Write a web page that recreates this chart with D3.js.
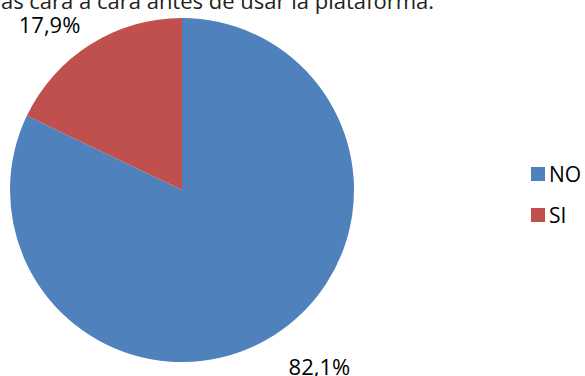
<!DOCTYPE html>
<html>
<head>
<meta charset="utf-8">
<script src="https://cdn.jsdelivr.net/npm/d3@7"></script>
<style>
  html, body { margin: 0; padding: 0; background: #fff; }
  svg { display: block; }
  text { font-family: "Open Sans", "DejaVu Sans", sans-serif; fill: #000; }
</style>
</head>
<body>
<svg id="chart" width="585" height="376"></svg>
<script>
// Answers and their shares (percent)
const categories = ["NO", "SI"];
const values = [82.1, 17.9];
const valueLabels = ["82,1%", "17,9%"];
const colors = ["#4F81BD", "#C0504D"];
const titleText = "¿Conocías a las personas cara a cara antes de usar la plataforma.";

const svg = d3.select("#chart");
const cx = 182, cy = 190, radius = 172;

// Title, partly above the top edge of the canvas
svg.append("text")
  .attr("x", 434)
  .attr("y", 9)
  .attr("text-anchor", "end")
  .style("font-size", "22px")
  .style("fill", "#222")
  .text(titleText);

const pie = d3.pie().sort(null).value(d => d);
const arcs = pie(values);
const arc = d3.arc().innerRadius(0).outerRadius(radius);

const g = svg.append("g").attr("transform", `translate(${cx},${cy})`);

g.selectAll("path.slice")
  .data(arcs)
  .join("path")
  .attr("class", "slice")
  .attr("d", arc)
  .attr("fill", (d, i) => colors[i]);

// Value labels outside each slice along its mid angle
const labelNudge = [[34, 12], [-29, -2]];
const labelRadius = radius + 22;
g.selectAll("text.value")
  .data(arcs)
  .join("text")
  .attr("class", "value")
  .attr("text-anchor", "middle")
  .attr("dominant-baseline", "central")
  .style("font-size", "22px")
  .attr("x", (d, i) => Math.sin((d.startAngle + d.endAngle) / 2) * labelRadius + labelNudge[i][0])
  .attr("y", (d, i) => -Math.cos((d.startAngle + d.endAngle) / 2) * labelRadius + labelNudge[i][1])
  .text((d, i) => valueLabels[i]);

// Legend
const legend = svg.append("g").attr("transform", "translate(531,167)");
const item = legend.selectAll("g.item")
  .data(categories)
  .join("g")
  .attr("class", "item")
  .attr("transform", (d, i) => `translate(0,${i * 41})`);
item.append("rect")
  .attr("width", 14)
  .attr("height", 14)
  .attr("fill", (d, i) => colors[i]);
item.append("text")
  .attr("x", 18)
  .attr("y", 14.5)
  .style("font-size", "21px")
  .text(d => d);
</script>
</body>
</html>
